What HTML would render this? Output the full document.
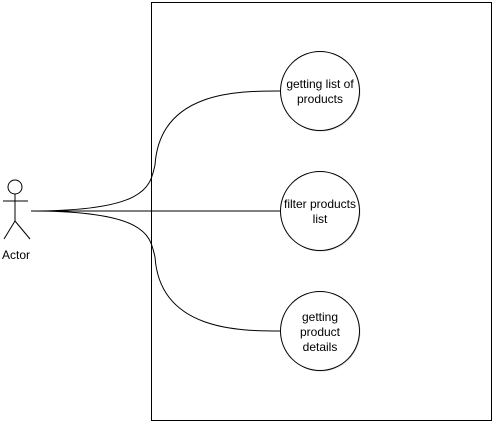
<!DOCTYPE html>
<html><head><style>body{margin:0;background:#fff}</style></head><body>
<svg width="499" height="429" xmlns="http://www.w3.org/2000/svg" font-family="Liberation Sans, sans-serif" font-size="12">
<rect x="151.5" y="2.5" width="340" height="418" fill="#fff" stroke="#000"/>
<g fill="none" stroke="#000">
<circle cx="15" cy="187" r="7" fill="#fff"/>
<line x1="15" y1="194" x2="15" y2="221"/>
<line x1="3" y1="201" x2="28" y2="201"/>
<line x1="15" y1="221" x2="4" y2="239"/>
<line x1="15" y1="221" x2="30" y2="239"/>
<path d="M31 211 C150 211 150 185 155 165 C160 90 240 91 281 91"/>
<path d="M31 211 L281 211"/>
<path d="M31 211 C150 211 150 237 155 257 C160 331 240 331 281 331"/>
<circle cx="321" cy="92" r="39.5" fill="#ddd" stroke="none"/>
<circle cx="321" cy="212" r="39.5" fill="#ddd" stroke="none"/>
<circle cx="321" cy="332" r="39.5" fill="#ddd" stroke="none"/>
<circle cx="320" cy="91" r="39.5" fill="#fff"/>
<circle cx="320" cy="211" r="39.5" fill="#fff"/>
<circle cx="320" cy="331" r="39.5" fill="#fff"/>
</g>
<g text-anchor="middle" fill="#000">
<text x="16" y="259">Actor</text>
<text x="320" y="88">getting list of</text>
<text x="320" y="103">products</text>
<text x="320" y="208">filter products</text>
<text x="320" y="223">list</text>
<text x="320" y="321">getting</text>
<text x="320" y="336">product</text>
<text x="320" y="351">details</text>
</g>
</svg>
</body></html>
